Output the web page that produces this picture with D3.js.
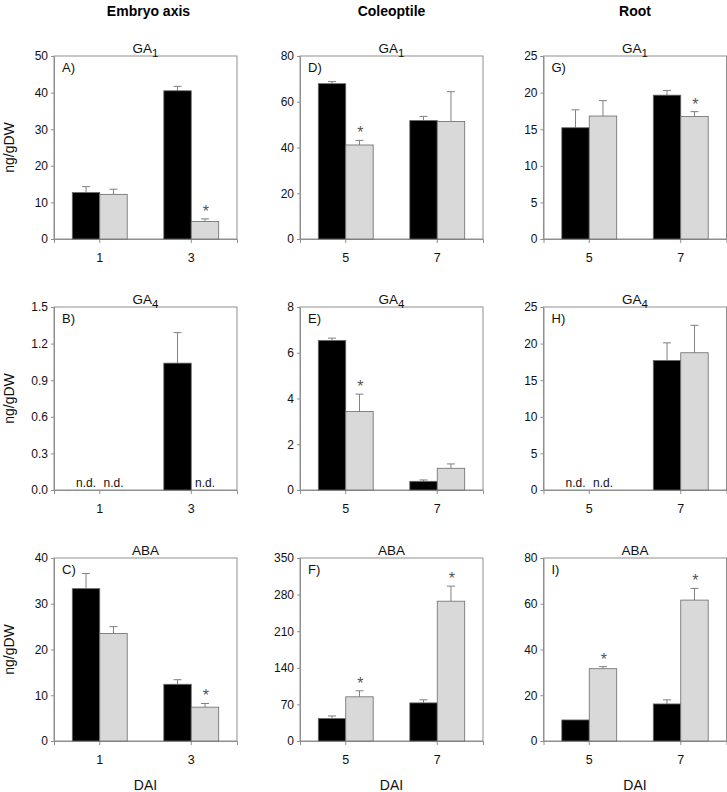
<!DOCTYPE html>
<html><head><meta charset="utf-8">
<script src="https://cdn.jsdelivr.net/npm/d3@7"></script>
<style>body{margin:0;background:#fff}svg{display:block;font-family:"Liberation Sans",Arial,sans-serif}</style>
</head><body><svg id="c" width="727" height="792"></svg>
<script>
// ---- data ----
const tissues = ["Embryo axis", "Coleoptile", "Root"];
const hormones = [["GA", "1"], ["GA", "4"], ["ABA", ""]];
const panelLetters = [["A)", "B)", "C)"], ["D)", "E)", "F)"], ["G)", "H)", "I)"]];
const days = [["1", "3"], ["5", "7"], ["5", "7"]];
const series = ["control", "treated"];
const yMax = [[50, 1.5, 40], [80, 8, 350], [25, 25, 80]];
const yStep = [[10, 0.3, 10], [20, 2, 70], [5, 5, 20]];
// values: [tissue][hormone][day] ; null = not detected
const blackVals = [
  [[12.7, 40.5], [null, 1.04], [33.3, 12.4]],
  [[67.9, 51.8], [6.54, 0.38], [42.9, 72.9]],
  [[15.2, 19.65], [null, 17.7], [9.2, 16.2]]
];
const blackErr = [
  [[1.6, 1.2], [null, 0.25], [3.3, 1.0]],
  [[0.9, 1.8], [0.1, 0.06], [5, 5.8]],
  [[2.45, 0.65], [null, 2.4], [null, 1.8]]
];
const greyVals = [
  [[12.2, 4.8], [null, null], [23.5, 7.4]],
  [[41.1, 51.4], [3.43, 0.95], [84.5, 267.4]],
  [[16.8, 16.75], [null, 18.75], [31.6, 61.6]]
];
const greyErr = [
  [[1.4, 0.7], [null, null], [1.5, 0.8]],
  [[2.0, 13.0], [0.76, 0.19], [11.5, 28.8]],
  [[2.1, 0.65], [null, 3.75], [0.9, 5.1]]
];
const greySig = [
  [[false, true], [false, false], [false, true]],
  [[true, false], [true, false], [true, true]],
  [[false, true], [false, false], [true, true]]
];
const yLabel = "ng/gDW";
const xLabel = "DAI";

// ---- layout ----
const colLeft = [54, 300, 543.5];
const rowTop = [56, 307, 558];
const W = 183, H = 183;
const fills = ["#000000", "#d9d9d9"];
const axisCol = "#8f8f8f";

const svg = d3.select("#c");

tissues.forEach((t, c) => {
  svg.append("text").attr("x", colLeft[c] + W / 2 + (c === 0 ? 3 : 0)).attr("y", 16)
    .attr("text-anchor", "middle").attr("font-weight", "bold").attr("font-size", 14).text(t);
});

for (let c = 0; c < 3; c++) {
  for (let r = 0; r < 3; r++) {
    const g = svg.append("g").attr("transform", `translate(${colLeft[c]},${rowTop[r]})`);
    const x = d3.scaleBand().domain(days[c]).range([0, W]).padding(0);
    const xs = d3.scaleBand().domain(series).range([x.bandwidth() * 0.2, x.bandwidth() * 0.8]).padding(0);
    const y = d3.scaleLinear().domain([0, yMax[c][r]]).range([H, 0]);
    const ticks = d3.range(0, yMax[c][r] + yStep[c][r] / 2, yStep[c][r]);

    // frame
    g.append("rect").attr("x", 0).attr("y", 0).attr("width", W).attr("height", H)
      .attr("fill", "none").attr("stroke", axisCol).attr("stroke-width", 1);

    const fmt = yStep[c][r] < 1 ? d3.format(".1f") : d3.format("d");
    const ya = g.append("g").call(d3.axisLeft(y).tickValues(ticks).tickFormat(fmt).tickSize(3).tickPadding(3));
    ya.select(".domain").attr("stroke", axisCol);
    ya.selectAll(".tick line").attr("stroke", axisCol);
    ya.selectAll("text").attr("font-size", 12).attr("font-family", "Liberation Sans, Arial").attr("fill", "#111");

    const xa = g.append("g").attr("transform", `translate(0,${H})`)
      .call(d3.axisBottom(x).tickSize(4).tickPadding(10));
    xa.select(".domain").attr("stroke", axisCol);
    xa.selectAll(".tick line").attr("stroke", axisCol);
    xa.selectAll("text").attr("font-size", 12.5).attr("font-family", "Liberation Sans, Arial").attr("fill", "#111");

    // bars
    const rows = [];
    days[c].forEach((d, i) => {
      rows.push({ day: d, s: "control", v: blackVals[c][r][i], e: blackErr[c][r][i], sig: false, fill: fills[0] });
      rows.push({ day: d, s: "treated", v: greyVals[c][r][i], e: greyErr[c][r][i], sig: greySig[c][r][i], fill: fills[1] });
    });
    rows.forEach(o => {
      const bx = x(o.day) + xs(o.s), bw = xs.bandwidth(), cx = bx + bw / 2;
      if (o.v === null) {
        g.append("text").attr("x", cx).attr("y", H - 3).attr("text-anchor", "middle")
          .attr("font-size", 12).attr("fill", "#111").text("n.d.");
        return;
      }
      if (o.e !== null) {
        const top = y(o.v + o.e);
        g.append("line").attr("x1", cx).attr("x2", cx).attr("y1", y(o.v)).attr("y2", top)
          .attr("stroke", "#808080").attr("stroke-width", 1);
        g.append("line").attr("x1", cx - 4).attr("x2", cx + 4).attr("y1", top).attr("y2", top)
          .attr("stroke", "#808080").attr("stroke-width", 1);
      }
      g.append("rect").attr("x", bx).attr("y", y(o.v)).attr("width", bw).attr("height", H - y(o.v))
        .attr("fill", o.fill).attr("stroke", "#6a6a6a").attr("stroke-width", 0.8);
      if (o.sig) {
        const top = y(o.v + (o.e || 0));
        g.append("text").attr("x", cx + 1).attr("y", top - 2).attr("text-anchor", "middle")
          .attr("font-size", 16).attr("fill", "#555").text("*");
      }
    });

    // panel letter
    g.append("text").attr("x", 8).attr("y", 16).attr("font-size", 13).attr("fill", "#111").text(panelLetters[c][r]);

    // panel title
    const tt = g.append("text").attr("x", W / 2).attr("y", -3).attr("text-anchor", "middle")
      .attr("font-size", 13.5).attr("fill", "#111");
    tt.append("tspan").text(hormones[r][0]);
    if (hormones[r][1]) tt.append("tspan").attr("dy", 3.5).attr("font-size", 11.5).text(hormones[r][1]);

    if (c === 0) {
      g.append("text").attr("transform", `translate(${-40},${H / 2}) rotate(-90)`)
        .attr("text-anchor", "middle").attr("font-size", 14).attr("fill", "#111").text(yLabel);
    }
    if (r === 2) {
      g.append("text").attr("x", W / 2).attr("y", H + 49).attr("text-anchor", "middle")
        .attr("font-size", 14).attr("fill", "#111").text(xLabel);
    }
  }
}
</script></body></html>
